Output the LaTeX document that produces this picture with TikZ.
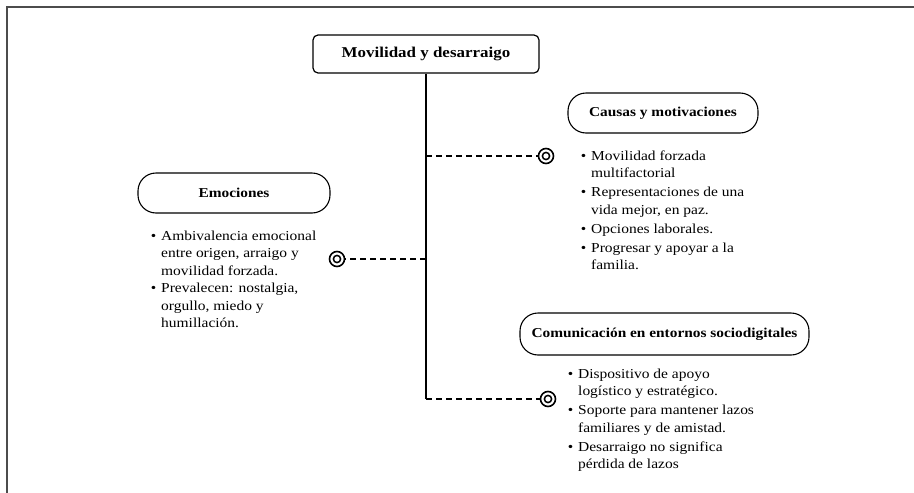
\documentclass[tikz,border=0pt]{standalone}
\usepackage{fontspec}
\setmainfont[FakeStretch=1.13]{Liberation Serif}
\newcommand\bul{\llap{\textbullet\hspace{5pt}}}
\begin{document}
\begin{tikzpicture}[x=1pt,y=-1pt,
  mainbox/.style={draw, line width=1.2pt, rounded corners=5pt, minimum width=226pt, minimum height=38pt, inner sep=0pt, font=\fontsize{15}{18}\selectfont\bfseries},
  pill/.style={draw, line width=1.1pt, rounded corners=18pt, minimum height=40pt, inner sep=0pt, font=\fontsize{13.6}{16}\selectfont\bfseries},
  items/.style={anchor=base west, inner sep=0pt, align=left, font=\fontsize{13.7}{17.5}\selectfont},
  link/.style={line width=1.3pt, dash pattern=on 6pt off 4pt},
  trunk/.style={line width=1.3pt},
  target/.style={circle, draw, line width=1.6pt, minimum size=15pt, inner sep=0pt,
    path picture={\draw[line width=1.5pt] (path picture bounding box.center) circle (3.6pt);}},
  frame/.style={line width=1.5pt, black!70}]
\useasboundingbox (0,0) rectangle (914,493);
\draw[frame] (7,493) -- (7,7) -- (914,7);

\node[mainbox] (title) at (426,54) {Movilidad y desarraigo};
\node[pill, minimum width=190pt] (causas) at (663,113) {Causas y motivaciones};
\node[pill, minimum width=192pt] (emo) at (234,193) {Emociones};
\node[pill, minimum width=289pt, minimum height=42pt] (com) at (664.5,334) {Comunicación en entornos sociodigitales};

\node[target] (t1) at (546,156) {};
\node[target] (t2) at (337,259) {};
\node[target] (t3) at (548,399) {};

\coordinate (j1) at (426,156);
\coordinate (j2) at (426,259);
\coordinate (j3) at (426,399);

\draw[trunk] (title.south) -- (j3);
\draw[link] (j3) -- (t3.west);
\draw[link] (j1) -- (t1.west);
\draw[link] (j2) -- (t2.east);

\node[items] (l1) at (591,269.5) {\bul Movilidad forzada\\multifactorial\\[1.5pt]
\bul Representaciones de una\\vida mejor, en paz.\\[1.5pt]
\bul Opciones laborales.\\[1.5pt]
\bul Progresar y apoyar a la\\familia.};

\node[items] (l2) at (161,327.5) {\bul Ambivalencia emocional\\entre origen, arraigo y\\movilidad forzada.\\
\bul Prevalecen: nostalgia,\\orgullo, miedo y\\humillación.};

\node[items] (l3) at (578,468.5) {\bul Dispositivo de apoyo\\logístico y estratégico.\\[1.5pt]
\bul Soporte para mantener lazos\\familiares y de amistad.\\[1.5pt]
\bul Desarraigo no significa\\pérdida de lazos};
\end{tikzpicture}
\end{document}
